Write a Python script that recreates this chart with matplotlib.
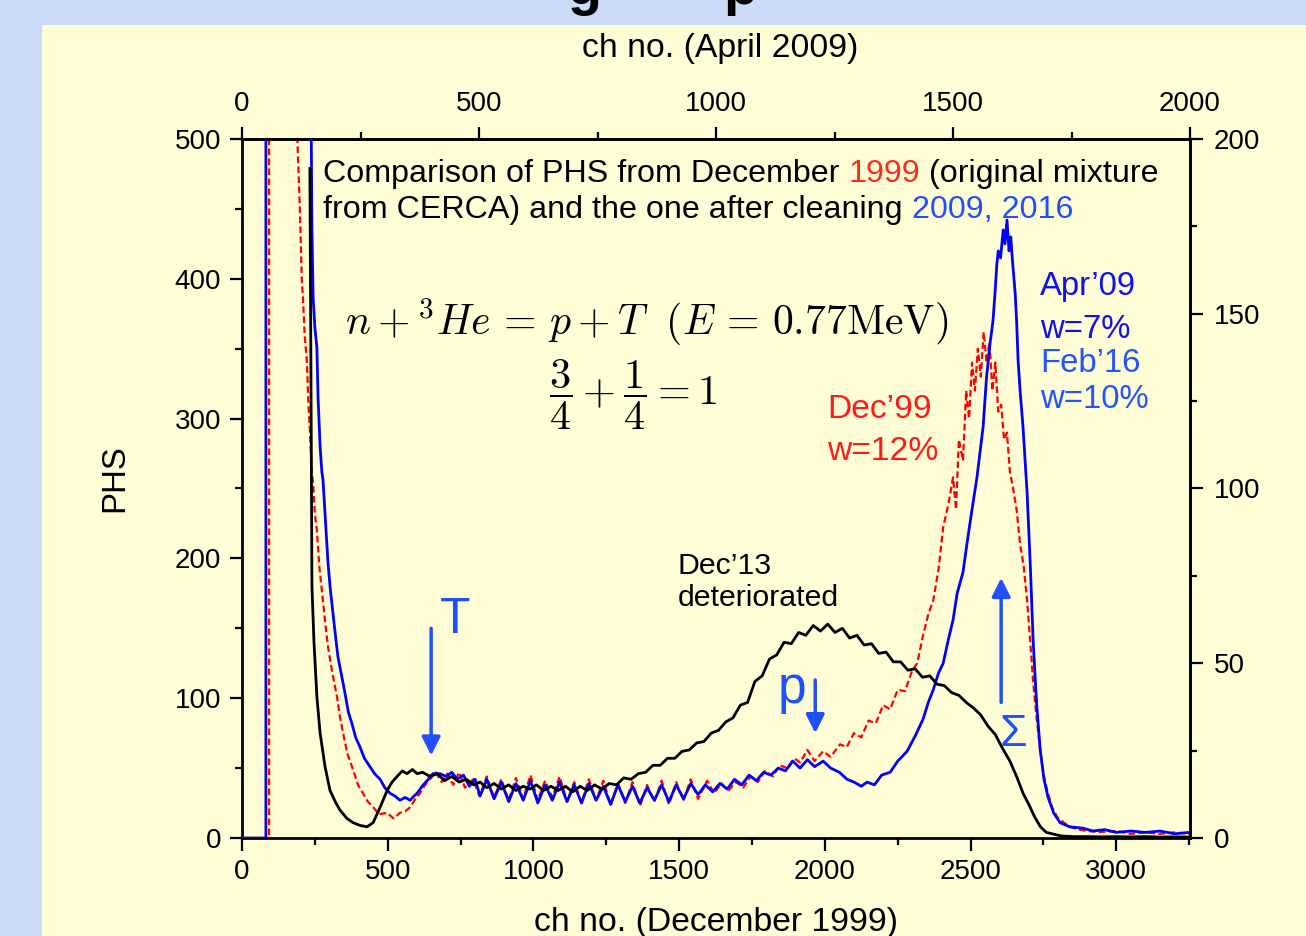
import numpy as np
import matplotlib
matplotlib.use('Agg')
import matplotlib.pyplot as plt
from matplotlib.patches import Rectangle

plt.rcParams['font.family'] = ['Liberation Sans', 'DejaVu Sans']
plt.rcParams['mathtext.fontset'] = 'cm'

# ---- data (channel no. Dec 1999, PHS counts) ----
black_x = [233, 237, 240, 247, 257, 268, 285, 302, 320, 336, 360, 381, 405, 429, 450, 474, 498, 515,
           532, 550, 566, 585, 601, 620, 645, 670, 695, 720, 745, 770, 795, 817, 840, 865, 890, 915,
           940, 965, 988, 1010, 1035, 1060, 1085, 1110, 1135, 1160, 1185, 1210, 1235, 1260, 1285,
           1310, 1335, 1360, 1385, 1410, 1435, 1460, 1485, 1510, 1535, 1560, 1585, 1610, 1635, 1660,
           1685, 1710, 1735, 1760, 1785, 1810, 1835, 1860, 1885, 1910, 1935, 1960, 1985, 2010, 2035,
           2060, 2085, 2110, 2135, 2160, 2185, 2210, 2235, 2260, 2285, 2310, 2335, 2360, 2385, 2410,
           2435, 2460, 2485, 2510, 2535, 2560, 2585, 2610, 2635, 2660, 2680, 2700, 2720, 2740, 2760,
           2780, 2810, 2850, 2900, 2950, 3000, 3050, 3100, 3150, 3200, 3250]
black_y = [479, 313, 180, 140, 101, 75, 51, 34, 26, 20, 14, 11, 9, 8, 11, 22, 34, 40,
           44, 48, 46, 49, 46, 47, 44, 46, 41, 44, 40, 42, 38, 40, 36, 39, 35, 38,
           34, 37, 35, 38, 34, 37, 34, 37, 33, 37, 34, 38, 35, 39, 38,
           43, 42, 46, 47, 52, 52, 57, 57, 62, 63, 68, 69, 75, 77, 83,
           86, 95, 97, 112, 116, 128, 131, 140, 139, 147, 145, 152, 148, 153, 147,
           150, 143, 145, 138, 139, 132, 133, 126, 126, 120, 121, 115, 116, 110, 109,
           104, 102, 97, 93, 88, 80, 74, 64, 55, 43, 32, 24, 15, 8, 4,
           3, 1.5, 1, 1, 0.8, 1, 0.8, 1, 0.7, 0.8, 0.7]

red_x = [0, 93, 93, 185, 190, 199, 205, 209, 215, 223, 228, 233, 240, 244, 250, 257, 265, 274, 285,
         295, 310, 326, 335, 347, 362, 381, 398, 415, 432, 450, 470, 498, 520, 542, 560, 577, 595,
         611, 628, 645, 665, 685, 704, 725, 745, 765, 793, 815, 840, 865, 890, 915, 940, 965, 990,
         1015, 1040, 1065, 1090, 1115, 1140, 1165, 1190, 1215, 1240, 1265, 1290, 1315, 1340, 1366,
         1390, 1415, 1440, 1465, 1490, 1515, 1540, 1565, 1596, 1620, 1645, 1670, 1695, 1720, 1745,
         1770, 1795, 1822, 1845, 1870, 1895, 1915, 1940, 1965, 1994, 2020, 2052, 2075, 2100, 2125,
         2150, 2175, 2200, 2224, 2250, 2275, 2300, 2317, 2337, 2355, 2372, 2390, 2406, 2425, 2440,
         2450, 2460, 2474, 2485, 2495, 2505, 2515, 2525, 2535, 2545, 2555, 2565, 2575, 2585, 2595,
         2605, 2615, 2625, 2635, 2646, 2658, 2670, 2682, 2694, 2705, 2715, 2727, 2739, 2751, 2763,
         2780, 2797, 2820, 2842, 2870, 2900, 2945, 3000, 3050, 3100, 3150, 3200, 3250]
red_y = [0, 0, 600, 600, 500, 447, 400, 387, 360, 340, 310, 292, 260, 254, 232, 220, 195, 177, 155,
         137, 118, 101, 88, 75, 60, 49, 38, 32, 26, 22, 17, 18, 14, 18, 19, 22, 28,
         32, 38, 42, 47, 40, 46, 38, 47, 36, 42, 30, 44, 29, 42, 27, 43, 28, 45,
         27, 41, 29, 44, 26, 40, 25, 42, 27, 41, 24, 39, 25, 40, 23,
         38, 26, 41, 24, 40, 27, 42, 28, 41, 32, 39, 34, 40, 36, 44,
         40, 48, 44, 52, 50, 57, 54, 63, 55, 62, 58, 67, 65, 75, 72,
         84, 82, 95, 92, 106, 105, 120, 125, 145, 160, 170, 192, 222, 240, 258,
         235, 285, 270, 320, 300, 340, 320, 350, 330, 362, 340, 355, 320, 340, 305,
         310, 285, 290, 262, 250, 235, 210, 195, 170, 140, 111, 85, 63, 45, 34,
         22, 15, 11, 8, 6, 5, 4.3, 5, 3, 4, 3, 4, 3]

blue_x = [0, 82, 82, 228, 237, 240, 244, 250, 257, 261, 268, 274, 278, 285, 290, 295, 303, 312, 320,
          329, 340, 353, 365, 377, 390, 405, 420, 439, 455, 474, 490, 508, 525, 542, 560, 577, 590,
          601, 618, 635, 655, 680, 700, 720, 738, 760, 780, 800, 817, 840, 865, 890, 915, 940, 965,
          990, 1015, 1040, 1065, 1090, 1115, 1140, 1165, 1190, 1215, 1240, 1265, 1290, 1315, 1340,
          1365, 1390, 1415, 1440, 1465, 1490, 1515, 1540, 1565, 1590, 1615, 1640, 1665, 1690, 1715,
          1740, 1765, 1790, 1815, 1840, 1865, 1890, 1915, 1940, 1965, 1994, 2020, 2050, 2076, 2100,
          2125, 2145, 2170, 2195, 2224, 2250, 2282, 2310, 2337, 2355, 2372, 2390, 2406, 2425, 2440,
          2454, 2474, 2488, 2505, 2522, 2535, 2543, 2555, 2567, 2577, 2584, 2590, 2595, 2603, 2612,
          2618, 2625, 2632, 2638, 2643, 2653, 2658, 2663, 2670, 2680, 2687, 2694, 2705, 2715, 2727,
          2739, 2752, 2766, 2785, 2807, 2840, 2886, 2920, 2960, 3000, 3050, 3100, 3150, 3200, 3250]
blue_y = [0, 0, 600, 600, 520, 435, 387, 365, 351, 315, 280, 262, 256, 232, 215, 197, 178, 161, 146,
          130, 118, 104, 90, 82, 72, 65, 57, 51, 46, 42, 36, 32, 30, 27, 29, 27, 30,
          32, 37, 41, 46, 46, 44, 47, 42, 45, 37, 42, 30, 42, 28, 40, 26, 39, 27,
          41, 25, 38, 27, 40, 26, 38, 25, 39, 27, 37, 24, 38, 26, 37,
          25, 36, 27, 38, 26, 38, 28, 39, 31, 38, 33, 39, 35, 42, 38,
          45, 41, 47, 45, 50, 48, 55, 50, 56, 51, 55, 50, 47, 42, 40,
          37, 40, 38, 45, 47, 55, 62, 73, 85, 97, 106, 118, 125, 143, 156,
          175, 190, 211, 235, 258, 280, 294, 330, 354, 370, 390, 410, 420, 415, 435,
          425, 442, 420, 430, 415, 390, 370, 342, 320, 294, 270, 247, 195, 140, 95,
          63, 42, 29, 18, 11, 8, 7, 5, 6, 4, 5, 4, 5, 3, 4]

bottom_ticks = [0, 500, 1000, 1500, 2000, 2500, 3000]
top_ticks = [0, 500, 1000, 1500, 2000]
left_ticks = [0, 100, 200, 300, 400, 500]
right_ticks = [0, 50, 100, 150, 200]

W, H = 1306, 936
fig = plt.figure(figsize=(W / 100, H / 100), dpi=100)
fig.patch.set_facecolor('#c9dbf6')
fig.patches.append(Rectangle((42 / W, 0), 1 - 42 / W, 1 - 25 / H, transform=fig.transFigure,
                             facecolor='#fffdd5', edgecolor='none', zorder=-5))

def fx(px):
    return px / W

def fy(py):
    return 1 - py / H

ax = fig.add_axes([fx(242), fy(838), fx(1190) - fx(242), fy(139) - fy(838)])
ax.set_facecolor('#fffdd5')
ax.set_xlim(0, 3253)
ax.set_ylim(0, 500)

ax.plot(red_x, red_y, color='red', lw=1.6, ls=(0, (3, 1.5)), zorder=2)
ax.plot(blue_x, blue_y, color='blue', lw=2.0, zorder=3)
ax.plot(black_x, black_y, color='black', lw=2.0, zorder=4)

ax.set_xticks(bottom_ticks)
ax.set_xticks(np.arange(0, 3253, 250), minor=True)
ax.set_yticks(left_ticks)
ax.set_yticks(np.arange(0, 501, 50), minor=True)
ax.tick_params(which='major', direction='out', length=9, width=1.6, labelsize=20, pad=6)
ax.tick_params(which='minor', direction='out', length=5, width=1.6)

top = ax.secondary_xaxis('top', functions=(lambda x: x * 2000 / 3253, lambda x: x * 3253 / 2000))
top.set_xticks(top_ticks)
top.set_xticks(np.arange(0, 2001, 250), minor=True)
top.tick_params(which='major', direction='out', length=9, width=1.6, labelsize=20, pad=7)
top.tick_params(which='minor', direction='out', length=5, width=1.6)

right = ax.secondary_yaxis('right', functions=(lambda y: y * 0.4, lambda y: y / 0.4))
right.set_yticks(right_ticks)
right.set_yticks(np.arange(0, 201, 25), minor=True)
right.tick_params(which='major', direction='out', length=9, width=1.6, labelsize=20, pad=8)
right.tick_params(which='minor', direction='out', length=5, width=1.6)

for a in (ax, top, right):
    for s in a.spines.values():
        s.set_linewidth(2)

# axis titles
fig.text(fx(720), fy(48), 'ch no. (April 2009)', fontsize=24.3, ha='center', va='center')
fig.text(fx(716), fy(922), 'ch no. (December 1999)', fontsize=24.3, ha='center', va='center')
fig.text(fx(115), fy(478), 'PHS', fontsize=23.8, ha='center', va='center', rotation=90)

# slide title (only its bottom is visible)
fig.text(fx(585), fy(4), 'g', fontsize=40, fontweight='bold', ha='center', va='baseline')
fig.text(fx(740), fy(4), 'p', fontsize=40, fontweight='bold', ha='center', va='baseline')

# multi-coloured caption
renderer = fig.canvas.get_renderer()

def text_width(s, size):
    t = fig.text(0, 0, s + 'x', fontsize=size)
    u = fig.text(0, 0, 'x', fontsize=size)
    w = t.get_window_extent(renderer).width - u.get_window_extent(renderer).width
    t.remove()
    u.remove()
    return w

def colored_line(px, py, parts, size):
    prefix = ''
    for s, c in parts:
        off = text_width(prefix, size) if prefix else 0
        fig.text(fx(px + off), fy(py), s, color=c, fontsize=size, ha='left', va='center')
        prefix += s

colored_line(323, 174, [('Comparison of PHS from December ', 'black'), ('1999', '#ff2a1a'),
                        (' (original mixture', 'black')], 23.2)
colored_line(323, 210, [('from CERCA) and the one after cleaning ', 'black'),
                        ('2009, 2016', '#1f4fff')], 23.2)

# reaction formula
fig.text(fx(345), fy(322), r'$n+{}^3He\,=\,p+T\ \ (E\,=\,0.77\mathrm{MeV})$', fontsize=30,
         ha='left', va='center')
fig.text(fx(633), fy(395), r'$\dfrac{3}{4}+\dfrac{1}{4}=1$', fontsize=30.5, ha='center', va='center')

# labels for the spectra
fig.text(fx(827), fy(410), 'Dec\u201999', color='#ff1a1a', fontsize=24.2, va='center')
fig.text(fx(827), fy(451), 'w=12%', color='#ff1a1a', fontsize=24.2, va='center')
fig.text(fx(1040), fy(287), 'Apr\u201909', color='#1010f0', fontsize=23.7, va='center')
fig.text(fx(1040), fy(329), 'w=7%', color='#1010f0', fontsize=23.7, va='center')
fig.text(fx(1040), fy(363), 'Feb\u201916', color='#2255ff', fontsize=23.7, va='center')
fig.text(fx(1040), fy(400), 'w=10%', color='#2255ff', fontsize=23.7, va='center')
fig.text(fx(678), fy(566), 'Dec\u201913', color='black', fontsize=21.8, va='center')
fig.text(fx(678), fy(598), 'deteriorated', color='black', fontsize=21.8, va='center')

# peak markers
acol = '#1f4fff'
arr = dict(arrowstyle='-|>', lw=2.5, color=acol, mutation_scale=28, shrinkA=0, shrinkB=0)
ax.annotate('', xy=(649, 59), xytext=(649, 150), arrowprops=arr)
ax.annotate('', xy=(1967, 75), xytext=(1967, 113), arrowprops=arr)
ax.annotate('', xy=(2605, 186), xytext=(2605, 97), arrowprops=arr)
fig.text(fx(455), fy(620), 'T', color=acol, fontsize=36, ha='center', va='center')
fig.text(fx(792), fy(690), 'p', color=acol, fontsize=37, ha='center', va='center')
fig.text(fx(1013), fy(735), '\u03a3', color=acol, fontsize=32, ha='center', va='center')

fig.savefig('out.png', dpi=100, facecolor=fig.get_facecolor())
